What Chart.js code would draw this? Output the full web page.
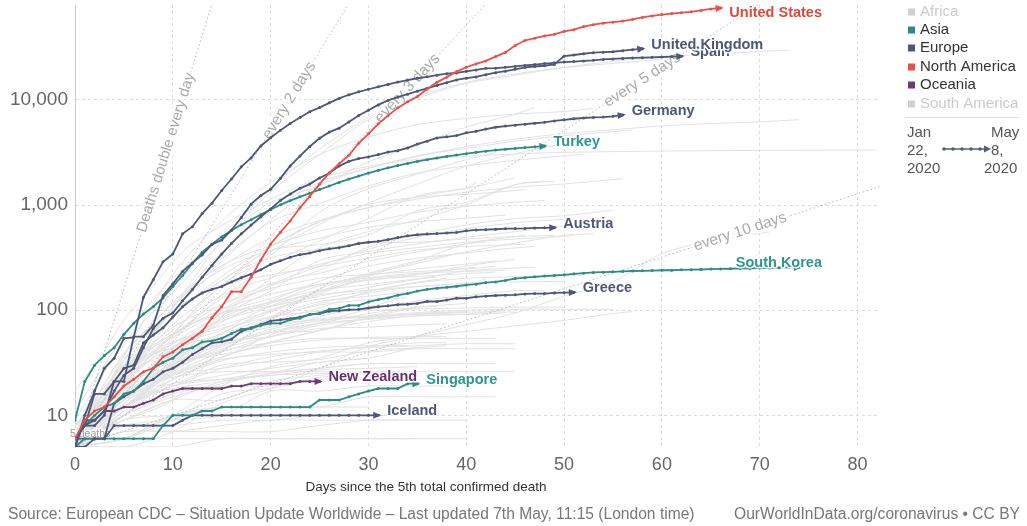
<!DOCTYPE html>
<html><head><meta charset="utf-8">
<script src="https://cdn.jsdelivr.net/npm/chart.js@4.4.1/dist/chart.umd.min.js"></script>
<style>
html,body{margin:0;padding:0;background:#fff;overflow:hidden}
#wrap{position:relative;width:1027px;height:526px}
canvas{position:absolute;left:0;top:0}
.foot{position:absolute;top:505px;line-height:18px;font:15.6px "Liberation Sans",Arial,sans-serif;color:#777;white-space:nowrap}
</style></head><body>
<div id="wrap"><canvas id="c" width="1027" height="526"></canvas>
<div class="foot" style="left:8px">Source: European CDC – Situation Update Worldwide – Last updated 7th May, 11:15 (London time)</div>
<div class="foot" style="right:7px">OurWorldInData.org/coronavirus • CC BY</div>
</div>
<script>
// ---------------- DATA ----------------
const dayTicks = [0, 10, 20, 30, 40, 50, 60, 70, 80];
const deathTicks = [10, 100, 1000, 10000];
const continents = ['Africa', 'Asia', 'Europe', 'North America', 'Oceania', 'South America'];
const dateRangeStart = ['Jan', '22,', '2020'];
const dateRangeEnd = ['May', '8,', '2020'];

// cumulative deaths, index = days since the 5th confirmed death
const usDeaths = [6,9,11,12,15,19,22,26,28,36,40,47,54,63,85,108,150,150,206,300,427,552,706,942,1209,1581,2026,2467,2978,3873,4757,5926,7087,8407,9619,10783,12722,14695,16478,18586,20463,22020,23529,25832,28325,32916,36773,38664,40661,42094,44845,46583,49845,51949,53755,54881,56259,58355,60967,62996,64943,66369,67682,68922,71064,73431,74800];
const ukDeaths = [6,8,8,10,21,21,56,56,72,138,178,234,282,336,423,466,580,761,1021,1231,1411,1793,2357,2926,3611,4320,4943,5385,6171,7111,7993,8974,9892,10629,11347,12129,12894,13759,14607,15498,16095,16550,17378,18151,18791,19567,20381,20794,21154,21745,26097,26771,27510,28131,28446,28734,29427,30076,30615];
const spainDeaths = [5,10,17,28,35,54,55,133,195,289,342,533,623,830,1043,1375,1772,2311,2808,3647,4365,5138,5982,6803,7716,8464,9387,10348,11198,11947,12641,13341,14045,14792,15447,16081,16606,17209,17756,18056,18708,19315,20002,20043,20453,20852,21282,21717,22157,22524,22902,23190,23521,23822,24275,24543,24824,25100,25264,25428,25613,25857,26070];
const germanyDeaths = [6,8,9,11,17,24,28,44,67,84,94,123,157,206,267,342,433,533,645,775,920,1107,1275,1444,1584,1810,2016,2349,2607,2767,2871,3022,3194,3294,3494,3804,4052,4352,4459,4586,4862,5033,5279,5500,5640,5750,5876,6000,6126,6314,6467,6623,6736,6812,6866,6993,7200];
const turkeyDeaths = [9,21,30,37,44,59,75,92,108,131,168,214,277,356,425,501,574,649,725,812,908,1006,1101,1198,1296,1403,1518,1643,1769,1890,2017,2140,2259,2376,2491,2600,2706,2805,2900,2992,3081,3174,3258,3336,3397,3461,3520,3584,3641];
const austriaDeaths = [6,8,16,16,21,28,30,49,58,68,86,108,128,146,158,168,186,204,220,243,273,295,319,337,350,368,384,393,410,431,443,452,470,491,510,522,530,536,542,549,569,580,584,589,596,598,600,606,608,610];
const southKoreaDeaths = [6,8,10,12,13,16,17,21,28,32,35,42,44,50,51,54,60,66,67,72,75,75,81,84,91,94,102,104,111,111,120,126,131,139,144,152,158,162,165,169,174,177,183,186,192,200,204,208,211,214,217,222,225,229,230,232,234,236,237,238,240,240,242,243,244,246,247,248,250,250,252,252,254,255,256];
const greeceDeaths = [5,5,6,6,13,15,17,20,22,26,28,32,38,43,49,50,53,63,68,73,79,81,83,86,91,93,98,99,101,102,105,108,110,113,114,116,121,121,125,130,130,134,136,138,139,140,143,144,144,146,147,148];
const newZealandDeaths = [5,9,9,11,11,12,12,13,14,16,17,18,18,18,18,18,19,19,20,20,20,20,20,21,21,21];
const singaporeDeaths = [5,6,6,6,6,6,6,6,6,8,10,10,10,11,11,12,12,12,12,12,12,12,12,12,12,14,14,14,15,16,17,18,18,18,20,20];
const icelandDeaths = [6,6,6,6,8,8,8,8,8,8,8,9,10,10,10,10,10,10,10,10,10,10,10,10,10,10,10,10,10,10,10,10];

const highlighted = [
  ['United States', 'North America', usDeaths],
  ['Spain', 'Europe', spainDeaths],
  ['United Kingdom', 'Europe', ukDeaths],
  ['Germany', 'Europe', germanyDeaths],
  ['Turkey', 'Asia', turkeyDeaths],
  ['Austria', 'Europe', austriaDeaths],
  ['South Korea', 'Asia', southKoreaDeaths],
  ['Greece', 'Europe', greeceDeaths],
  ['New Zealand', 'Oceania', newZealandDeaths],
  ['Singapore', 'Asia', singaporeDeaths],
  ['Iceland', 'Europe', icelandDeaths]
];

// other countries (grey): [day, cumulative deaths]
const otherCountries = [
 ['Italy', [[0,7],[5,29],[10,107],[15,463],[20,1441],[25,3405],[30,6820],[35,10779],[40,14681],[45,17669],[50,20465],[55,23227],[60,25549],[65,27359],[70,28884],[73,29684]]],
 ['France', [[0,9],[5,48],[10,148],[15,450],[20,1331],[25,3024],[30,6507],[35,10328],[40,14393],[45,17167],[50,20265],[55,22245],[60,24376],[62,25531]]],
 ['Belgium', [[0,5],[5,37],[10,220],[15,705],[20,1632],[25,3019],[30,4440],[35,5828],[40,6679],[45,7331],[50,7765],[53,8339]]],
 ['Netherlands', [[0,5],[5,20],[10,106],[15,356],[20,864],[25,1651],[30,2248],[35,2945],[40,3459],[45,4054],[50,4566],[55,4987],[57,5204]]],
 ['Iran', [[0,8],[5,26],[10,107],[15,291],[20,724],[25,1556],[30,2234],[35,2898],[40,3603],[45,4232],[50,4777],[55,5209],[60,5650],[65,5957],[70,6203],[74,6486]]],
 ['China', [[0,17],[3,41],[5,81],[8,170],[11,361],[14,563],[19,1016],[24,1666],[29,2236],[34,2663],[39,2870],[48,3136],[58,3249],[70,3312],[82,3341]]],
 ['Brazil', [[0,11],[5,57],[10,201],[15,486],[20,1056],[25,1532],[30,2575],[35,3704],[40,5513],[45,7321],[47,8536]]],
 ['Canada', [[0,5],[5,19],[10,54],[15,139],[20,357],[25,654],[30,1048],[35,1587],[40,2350],[45,3082],[50,3854],[52,4232]]],
 ['Sweden', [[0,7],[5,25],[10,105],[15,308],[20,687],[25,1033],[30,1511],[35,2021],[40,2355],[45,2669],[50,2941],[52,3040]]],
 ['Switzerland', [[0,7],[5,27],[10,98],[15,257],[20,488],[25,715],[30,948],[35,1138],[40,1327],[45,1478],[50,1589],[56,1784]]],
 ['Ireland', [[0,6],[5,19],[10,85],[15,210],[20,406],[25,687],[30,1014],[35,1190],[40,1265],[45,1375],[46,1403]]],
 ['Portugal', [[0,6],[5,33],[10,119],[15,266],[20,409],[25,567],[30,687],[35,854],[40,973],[45,1063],[48,1105]]],
 ['Mexico', [[0,5],[5,20],[10,60],[15,174],[20,332],[25,857],[30,1434],[35,1972],[40,2704],[43,3160]]],
 ['India', [[0,5],[5,10],[10,32],[15,86],[20,199],[25,392],[30,559],[35,723],[40,1007],[45,1568],[48,1694]]],
 ['Russia', [[0,8],[5,24],[10,58],[15,130],[20,273],[25,456],[30,747],[35,1222],[40,1451],[41,1625]]],
 ['Ecuador', [[0,5],[5,34],[10,98],[15,191],[20,369],[25,421],[30,520],[35,883],[40,1063],[45,1564],[49,1684]]],
 ['Peru', [[0,7],[5,24],[10,73],[15,169],[20,400],[25,700],[30,943],[35,1200],[40,1444],[45,1814]]],
 ['Romania', [[0,7],[5,37],[10,115],[15,242],[20,372],[25,485],[30,616],[35,694],[40,750],[44,803]]],
 ['Indonesia', [[0,5],[5,19],[10,58],[15,102],[20,170],[25,240],[30,399],[35,520],[40,647],[45,743],[50,792],[55,895]]],
 ['Poland', [[0,5],[5,16],[10,43],[15,94],[20,174],[25,263],[30,380],[35,494],[40,596],[45,678],[50,733]]],
 ['Philippines', [[0,8],[5,17],[10,35],[15,88],[20,152],[25,297],[30,362],[35,428],[40,494],[45,558],[50,637],[55,685]]],
 ['Denmark', [[0,6],[5,24],[10,65],[15,139],[20,203],[25,273],[30,346],[35,394],[40,443],[45,475],[50,506],[51,514]]],
 ['Japan', [[0,5],[5,6],[10,10],[15,19],[20,29],[25,35],[30,49],[35,57],[40,73],[45,94],[50,136],[55,186],[60,345],[65,455],[71,556]]],
 ['Egypt', [[0,6],[5,14],[10,30],[15,52],[20,85],[25,159],[30,224],[35,294],[40,359],[45,435],[50,514],[53,533]]],
 ['Algeria', [[0,7],[5,21],[10,58],[15,193],[20,315],[25,383],[30,435],[35,444],[40,476],[45,502],[49,515]]],
 ['Czechia', [[0,6],[5,31],[10,59],[15,112],[20,161],[25,201],[30,219],[35,233],[40,247],[43,262]]],
 ['Hungary', [[0,6],[5,15],[10,38],[15,77],[20,122],[25,189],[30,262],[35,312],[40,351],[45,392],[47,405]]],
 ['Norway', [[0,7],[5,14],[10,32],[15,59],[20,101],[25,128],[30,152],[35,182],[40,201],[45,208],[50,214],[52,216]]],
 ['Finland', [[0,7],[5,25],[10,48],[15,72],[20,98],[25,149],[30,199],[35,218],[40,252],[41,255]]],
 ['Pakistan', [[0,5],[5,14],[10,33],[15,61],[20,96],[25,143],[30,212],[35,292],[40,428],[46,514]]],
 ['Colombia', [[0,6],[5,25],[10,69],[15,113],[20,179],[25,225],[30,293],[35,358],[40,428],[42,445]]],
 ['Chile', [[0,5],[5,16],[10,43],[15,82],[20,116],[25,171],[30,213],[35,247],[40,275],[43,294]]],
 ['Argentina', [[0,6],[5,24],[10,60],[15,95],[20,129],[25,176],[30,192],[35,218],[40,264],[45,305]]],
 ['Ukraine', [[0,5],[5,22],[10,45],[15,79],[20,108],[25,151],[30,220],[35,279],[39,344]]],
 ['Israel', [[0,5],[5,20],[10,57],[15,101],[20,142],[25,177],[30,204],[35,225],[40,234],[44,239]]],
 ['Serbia', [[0,6],[5,16],[10,44],[15,65],[20,110],[25,151],[30,194],[35,209],[40,223],[43,230]]],
 ['Morocco', [[0,5],[5,24],[10,48],[15,90],[20,118],[25,141],[30,155],[35,168],[40,181],[45,186],[50,188]]],
 ['Dominican Republic', [[0,6],[5,39],[10,98],[15,173],[20,217],[25,260],[30,313],[35,373],[40,404],[46,424]]],
 ['Saudi Arabia', [[0,8],[5,29],[10,44],[15,59],[20,87],[25,121],[30,136],[35,152],[40,169],[42,200]]],
 ['Bangladesh', [[0,5],[5,12],[10,30],[15,84],[20,120],[25,155],[30,175],[35,199],[37,206]]],
 ['Panama', [[0,6],[5,30],[10,55],[15,94],[20,109],[25,136],[30,165],[35,197],[40,237],[47,256]]],
 ['United Arab Emirates', [[0,8],[5,12],[10,25],[15,41],[20,76],[25,105],[30,150],[35,185],[38,201]]],
 ['Moldova', [[0,6],[5,15],[10,36],[15,55],[20,83],[25,116],[30,145],[35,168],[40,170]]],
 ['Belarus', [[0,5],[5,13],[10,26],[15,47],[20,84],[25,112],[30,126],[34,131]]],
 ['Australia', [[0,5],[5,5],[10,7],[15,13],[20,18],[25,28],[30,45],[35,56],[40,63],[45,71],[50,80],[55,93],[57,97]]],
 ['South Africa', [[0,5],[5,11],[10,27],[15,50],[20,75],[25,93],[30,103],[35,123],[40,138],[45,153],[48,153]]],
 ['Nigeria', [[0,5],[5,10],[10,22],[15,35],[20,58],[25,87],[30,107],[33,128]]],
 ['Cameroon', [[0,6],[5,9],[10,14],[15,42],[20,61],[25,64],[30,88],[35,108]]],
 ['Bolivia', [[0,7],[5,15],[10,29],[15,40],[20,56],[25,76],[30,102],[35,117]]],
 ['Honduras', [[0,7],[5,22],[10,41],[15,47],[20,61],[25,75],[30,93],[35,107],[40,116]]],
 ['Afghanistan', [[0,6],[5,14],[10,25],[15,36],[20,50],[25,64],[30,85],[35,106],[37,109]]],
 ['Iraq', [[0,8],[5,20],[10,36],[15,50],[20,56],[25,72],[30,82],[35,88],[40,92],[45,102],[50,102],[55,102]]],
 ['Malaysia', [[0,8],[5,26],[10,50],[15,67],[20,86],[25,98],[30,100],[35,103],[40,105],[45,107],[50,107]]],
 ['Luxembourg', [[0,5],[5,15],[10,31],[15,54],[20,69],[25,83],[30,88],[35,92],[40,96],[45,96]]],
 ['Slovenia', [[0,5],[5,11],[10,28],[15,45],[20,66],[25,79],[30,87],[35,95],[40,100],[44,102]]],
 ['Croatia', [[0,6],[5,16],[10,31],[15,47],[20,63],[25,75],[30,83],[35,93],[40,97]]],
 ['Bulgaria', [[0,5],[5,10],[10,24],[15,36],[20,49],[25,64],[30,78],[35,89],[40,91],[44,94]]],
 ['North Macedonia', [[0,5],[5,18],[10,38],[15,55],[20,73],[25,81],[30,86],[35,91],[40,95]]],
 ['Cuba', [[0,6],[5,12],[10,27],[15,43],[20,56],[25,67],[30,69],[35,73],[38,74]]],
 ['Estonia', [[0,5],[5,15],[10,31],[15,38],[20,46],[25,52],[30,55],[35,56],[38,56]]],
 ['Thailand', [[0,6],[5,19],[10,30],[15,41],[20,49],[25,54],[30,54],[35,54],[40,54],[43,54]]],
 ['Lithuania', [[0,5],[5,12],[10,22],[15,33],[20,40],[25,44],[30,46],[34,46]]],
 ['Armenia', [[0,5],[5,12],[10,24],[15,28],[20,33],[25,40],[30,45],[35,49],[38,49]]],
 ['Tunisia', [[0,5],[5,14],[10,24],[15,34],[20,38],[25,40],[30,40],[35,43],[40,43],[45,43]]],
 ['Burkina Faso', [[0,7],[5,12],[10,19],[15,28],[20,36],[25,41],[30,44],[35,46],[40,48],[45,48]]],
 ['DR Congo', [[0,8],[5,18],[10,20],[15,30],[20,32],[25,34],[30,41],[35,44],[38,46]]],
 ['Mali', [[0,5],[5,9],[10,14],[15,21],[20,25],[25,32],[30,35],[35,45]]],
 ['Albania', [[0,5],[5,16],[10,23],[15,26],[20,26],[25,28],[30,31],[35,31],[40,31],[43,31]]],
 ['Lebanon', [[0,6],[5,12],[10,19],[15,22],[20,26],[25,26],[30,26],[35,26],[40,26],[45,26]]],
 ['Azerbaijan', [[0,5],[5,10],[10,15],[15,20],[20,25],[25,28],[30,31],[35,31]]],
 ['Kosovo', [[0,5],[5,12],[10,20],[15,22],[20,24],[25,27],[30,28],[35,29]]],
 ['Kazakhstan', [[0,6],[5,10],[10,16],[15,19],[20,19],[25,23],[30,25],[35,25]]],
 ['Kenya', [[0,6],[5,9],[10,14],[15,14],[20,21],[25,24],[30,26],[33,26]]],
 ['Slovakia', [[0,5],[5,14],[10,18],[15,21],[20,24],[25,25],[30,26]]],
 ['Ghana', [[0,5],[5,6],[10,9],[15,16],[20,18],[25,22],[30,22],[32,22]]],
 ['Uruguay', [[0,5],[5,8],[10,9],[15,10],[20,17],[25,17],[30,19],[35,19],[38,19]]],
 ['Cyprus', [[0,5],[5,9],[10,10],[15,12],[20,12],[25,12],[30,15],[35,15],[40,15],[43,15]]],
 ['Costa Rica', [[0,6],[5,6],[10,6],[15,6],[20,6],[25,6],[30,6],[35,6]]],
 ['Jordan', [[0,5],[5,7],[10,7],[15,8],[20,9],[25,9],[30,9],[35,9],[40,9]]],
 ['Paraguay', [[0,5],[5,8],[10,8],[15,9],[20,9],[25,10],[30,10],[33,10]]],
 ['Sri Lanka', [[0,5],[5,7],[10,7],[15,7],[20,7],[25,8],[30,9],[33,9]]],
 ['Taiwan', [[0,5],[5,5],[10,5],[15,6],[20,6],[25,6],[30,6],[35,6],[40,6]]],
 ['Georgia', [[0,5],[5,6],[10,10],[15,12],[20,12],[25,12],[30,12]]],
 ['Uzbekistan', [[0,5],[5,6],[10,10],[15,10],[20,10],[25,10],[30,10]]],
 ['Niger', [[0,5],[5,12],[10,19],[15,24],[20,28],[25,32],[30,35]]]
];

// doubling-time guide lines (days to double), starting at 5 deaths on day 0
const guideDoubling = [1, 2, 3, 5, 10];
const guideText = ['Deaths double every day', 'every 2 days', 'every 3 days', 'every 5 days', 'every 10 days'];
const guideStartDeaths = 5;

// ---------------- STYLE ----------------
const FONT = '"Liberation Sans", Arial, Helvetica, sans-serif';
const continentColor = {'Africa':'#cccccc','Asia':'#2b8c83','Europe':'#4d5879','North America':'#e8504a','Oceania':'#6e3c72','South America':'#cccccc'};
const labelColor = {'Asia':'#2e978c','Europe':'#4d5879','North America':'#e0473d','Oceania':'#6b2f6b'};
const guideLabelDay = [9.3, 21.9, 34, 58, 68];
const X_MAX = 82.3, Y_MIN = 5, Y_MAX = 80000;
const labelMaxRight = 822;

// ---------------- BUILD ----------------
const datasets = [];
highlighted.forEach(([name, cont, arr], i) => {
  const col = continentColor[cont];
  datasets.push({
    label: name, kind: 'main', continent: cont,
    data: arr.map((v, d) => ({x: d, y: v})),
    borderColor: col, backgroundColor: col, borderWidth: 1.8,
    pointRadius: 1.5, pointBorderWidth: 0, pointBackgroundColor: col,
    tension: 0, order: 1 + i
  });
});
const firstGuideIndex = datasets.length;
guideDoubling.forEach((k, i) => {
  const dEnd = Math.min(X_MAX, k * Math.log2(Y_MAX / guideStartDeaths));
  datasets.push({
    label: guideText[i], kind: 'guide', doubling: k,
    data: [{x: 0, y: guideStartDeaths}, {x: dEnd, y: guideStartDeaths * Math.pow(2, dEnd / k)}],
    borderColor: '#b5b5b5', borderWidth: 1, borderDash: [1.5, 2.5], pointRadius: 0, order: 20
  });
});
otherCountries.forEach(([name, pts]) => {
  datasets.push({
    label: name, kind: 'other',
    data: pts.map(p => ({x: p[0], y: p[1]})),
    borderColor: '#e2e2e2', borderWidth: 1, pointRadius: 0, tension: 0.3, order: 30
  });
});

const guideLabelsPlugin = {
  id: 'guideLabels',
  afterDatasetDraw(chart, args) {
    if (args.index !== firstGuideIndex) return;
    const {ctx, scales: {x, y}} = chart;
    guideDoubling.forEach((k, i) => {
      const d = guideLabelDay[i];
      const f = t => guideStartDeaths * Math.pow(2, t / k);
      const x0 = x.getPixelForValue(d - 1), y0 = y.getPixelForValue(f(d - 1));
      const x1 = x.getPixelForValue(d + 1), y1 = y.getPixelForValue(f(d + 1));
      const px = x.getPixelForValue(d), py = y.getPixelForValue(f(d));
      const ang = Math.atan2(y1 - y0, x1 - x0);
      ctx.save();
      ctx.translate(px, py); ctx.rotate(ang);
      ctx.font = (i === 0 ? '15px ' : '15.5px ') + FONT;
      ctx.textAlign = 'center'; ctx.textBaseline = 'middle';
      ctx.lineWidth = 6; ctx.strokeStyle = '#fff'; ctx.lineJoin = 'round';
      ctx.strokeText(guideText[i], 0, 0);
      ctx.fillStyle = '#ababab'; ctx.fillText(guideText[i], 0, 0);
      ctx.restore();
    });
    ctx.save();
    ctx.font = '10.5px ' + FONT; ctx.textAlign = 'left'; ctx.textBaseline = 'middle';
    ctx.lineWidth = 3; ctx.strokeStyle = '#fff';
    ctx.strokeText('5 deaths', 70, 434);
    ctx.fillStyle = '#9a9a9a'; ctx.fillText('5 deaths', 70, 434);
    ctx.restore();
  }
};

const endLabelsPlugin = {
  id: 'endLabels',
  afterDatasetsDraw(chart) {
    const {ctx} = chart;
    const ends = [];
    chart.data.datasets.forEach((ds, i) => {
      if (ds.kind !== 'main') return;
      const pts = chart.getDatasetMeta(i).data;
      const a = pts[pts.length - 2], b = pts[pts.length - 1];
      const ang = Math.atan2(b.y - a.y, b.x - a.x);
      const c = Math.cos(ang), s = Math.sin(ang);
      const tipX = b.x + 3 * c, tipY = b.y + 3 * s;
      ctx.save();
      ctx.fillStyle = ds.borderColor;
      ctx.beginPath();
      ctx.moveTo(tipX, tipY);
      ctx.lineTo(tipX - 8 * c - 3.5 * s, tipY - 8 * s + 3.5 * c);
      ctx.lineTo(tipX - 8 * c + 3.5 * s, tipY - 8 * s - 3.5 * c);
      ctx.closePath(); ctx.fill();
      ctx.restore();
      ends.push({ds, tipX, tipY});
    });
    ends.forEach(({ds, tipX, tipY}) => {
      ctx.save();
      ctx.font = 'bold 14.5px ' + FONT;
      const w = ctx.measureText(ds.label).width;
      const lx = Math.min(tipX + 6, labelMaxRight - w);
      const ly = Math.max(13, tipY - 4);
      ctx.textAlign = 'left'; ctx.textBaseline = 'middle';
      ctx.lineWidth = 3; ctx.strokeStyle = 'rgba(255,255,255,0.9)'; ctx.lineJoin = 'round';
      ctx.strokeText(ds.label, lx, ly);
      ctx.fillStyle = labelColor[ds.continent];
      ctx.fillText(ds.label, lx, ly);
      ctx.restore();
    });
  }
};

const legendPlugin = {
  id: 'sideLegend',
  afterDraw(chart) {
    const {ctx} = chart;
    const rowY = [12, 30, 48, 67, 85, 104];
    const active = new Set(highlighted.map(h => h[1]));
    ctx.save();
    ctx.font = '15px ' + FONT; ctx.textBaseline = 'middle'; ctx.textAlign = 'left';
    continents.forEach((c, i) => {
      const on = active.has(c);
      ctx.fillStyle = on ? continentColor[c] : '#d0d0d0';
      ctx.fillRect(908, rowY[i] - 3.5, 7, 7);
      ctx.fillStyle = on ? '#333' : '#cbcbcb';
      ctx.fillText(c, 920, rowY[i]);
    });
    ctx.strokeStyle = '#dddddd'; ctx.lineWidth = 1;
    ctx.beginPath(); ctx.moveTo(905, 117.5); ctx.lineTo(1019, 117.5); ctx.stroke();
    ctx.fillStyle = '#555'; ctx.font = '15px ' + FONT;
    const dy = [133, 151, 169];
    dateRangeStart.forEach((t, i) => ctx.fillText(t, 907, dy[i]));
    dateRangeEnd.forEach((t, i) => ctx.fillText(t, i === 2 ? 984 : 991, dy[i]));
    ctx.strokeStyle = '#4d6272'; ctx.fillStyle = '#4d6272'; ctx.lineWidth = 1.4;
    ctx.beginPath(); ctx.moveTo(943, 149); ctx.lineTo(985, 149); ctx.stroke();
    [944, 953, 962, 971, 980].forEach(px => { ctx.beginPath(); ctx.arc(px, 149, 1.8, 0, Math.PI * 2); ctx.fill(); });
    ctx.beginPath(); ctx.moveTo(991, 149); ctx.lineTo(984, 145.5); ctx.lineTo(984, 152.5); ctx.closePath(); ctx.fill();
    ctx.fillStyle = '#333'; ctx.font = '13.5px ' + FONT; ctx.textAlign = 'center';
    ctx.fillText('Days since the 5th total confirmed death', 426, 487);
    ctx.restore();
  }
};

new Chart(document.getElementById('c'), {
  type: 'line',
  data: {datasets},
  plugins: [guideLabelsPlugin, endLabelsPlugin, legendPlugin],
  options: {
    responsive: false, animation: false, devicePixelRatio: 1,
    layout: {padding: {left: 0, right: 147, top: 5, bottom: 49}},
    plugins: {legend: {display: false}, tooltip: {enabled: false}},
    scales: {
      x: {
        type: 'linear', min: 0, max: X_MAX,
        afterBuildTicks: s => { s.ticks = dayTicks.map(v => ({value: v})); },
        afterFit: s => { s.height = 30; s.paddingLeft = 0; s.paddingRight = 0; },
        ticks: {font: {size: 18, family: FONT}, color: '#666', padding: 7, maxRotation: 0, autoSkip: false},
        grid: {color: '#dcdcdc', drawTicks: false},
        border: {display: false, dash: [3, 3]}
      },
      y: {
        type: 'logarithmic', min: Y_MIN, max: Y_MAX,
        afterBuildTicks: s => { s.ticks = deathTicks.map(v => ({value: v})); },
        afterFit: s => { s.width = 75; s.paddingTop = 0; s.paddingBottom = 0; },
        ticks: {font: {size: 19, family: FONT}, color: '#666', padding: 7, autoSkip: false,
          callback: v => Number(v).toLocaleString('en-US')},
        grid: {color: '#dcdcdc', drawTicks: false},
        border: {display: true, color: '#cccccc', dash: [3, 3]}
      }
    }
  }
});
</script>
</body></html>
